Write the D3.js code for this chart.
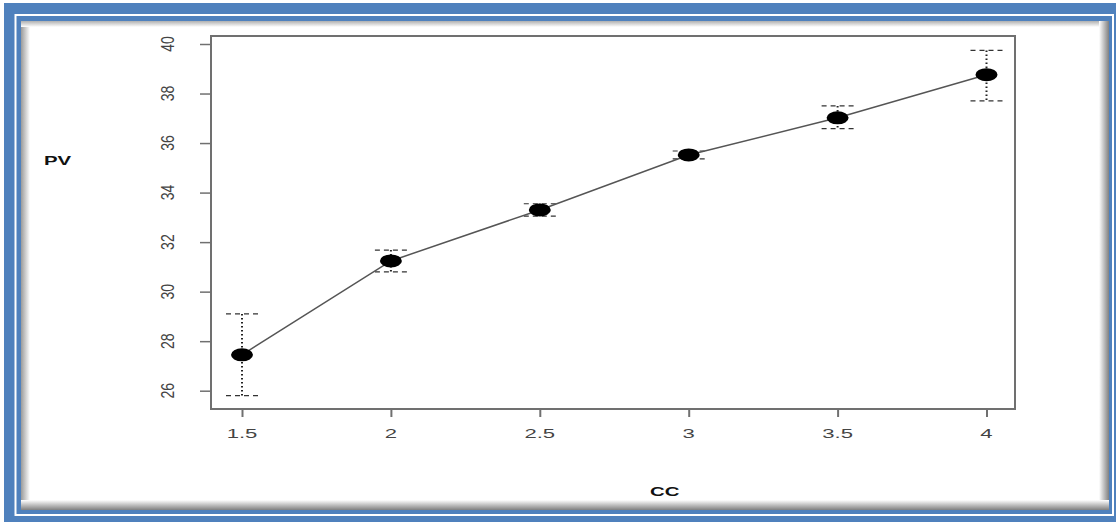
<!DOCTYPE html>
<html>
<head>
<meta charset="utf-8">
<script src="https://cdn.jsdelivr.net/npm/d3@7"></script>
<style>
  body { margin: 0; background: #fff; }
  svg { display: block; }
</style>
</head>
<body>
<svg width="1116" height="522"></svg>
<script>
// values
var cc      = [1.5, 2, 2.5, 3, 3.5, 4];
var pv      = [27.45, 31.24, 33.3, 35.52, 37.02, 38.76];
var pvUpper = [29.1, 31.68, 33.55, 35.68, 37.5, 39.74];
var pvLower = [25.8, 30.8, 33.05, 35.36, 36.58, 37.7];
var xTicks  = [1.5, 2, 2.5, 3, 3.5, 4];
var yTicks  = [26, 28, 30, 32, 34, 36, 38, 40];

var data = cc.map( (c, i) => ({ x: c, y: pv[i], hi: pvUpper[i], lo: pvLower[i] }) );

var svg = d3.select( "svg" );
var stretch = 1.7;        // the picture is widened, text too

// frame: blue border, thin white line, panel with soft shadow
var defs = svg.append( "defs" );
function grad( id, x1, y1, x2, y2, c1, c2 ) {
    var g = defs.append( "linearGradient" ).attr( "id", id )
        .attr( "x1", x1 ).attr( "y1", y1 ).attr( "x2", x2 ).attr( "y2", y2 );
    g.append( "stop" ).attr( "offset", "0%" ).attr( "stop-color", c1 );
    g.append( "stop" ).attr( "offset", "100%" ).attr( "stop-color", c2 );
}
grad( "shL", 0, 0, 1, 0, "#9a9a9a", "#ffffff" );
grad( "shT", 0, 0, 0, 1, "#b0b0b0", "#ffffff" );
grad( "shR", 0, 0, 1, 0, "#ffffff", "#808080" );
grad( "shB", 0, 0, 0, 1, "#ffffff", "#808080" );

svg.append( "rect" ).attr( "x", 4 ).attr( "y", 3 )
    .attr( "width", 1112 ).attr( "height", 519 ).attr( "fill", "#4f81bd" );
svg.append( "rect" ).attr( "x", 15.5 ).attr( "y", 15 )
    .attr( "width", 1097.5 ).attr( "height", 500 )
    .attr( "fill", "none" ).attr( "stroke", "#fff" ).attr( "stroke-width", 2 );
svg.append( "rect" ).attr( "x", 21 ).attr( "y", 21 )
    .attr( "width", 1088 ).attr( "height", 489 ).attr( "fill", "#fff" );
svg.append( "rect" ).attr( "x", 21 ).attr( "y", 21 ).attr( "width", 9 ).attr( "height", 489 ).attr( "fill", "url(#shL)" );
svg.append( "rect" ).attr( "x", 21 ).attr( "y", 21 ).attr( "width", 1088 ).attr( "height", 6 ).attr( "fill", "url(#shT)" );
svg.append( "rect" ).attr( "x", 1099 ).attr( "y", 21 ).attr( "width", 10 ).attr( "height", 489 ).attr( "fill", "url(#shR)" );
svg.append( "rect" ).attr( "x", 21 ).attr( "y", 500 ).attr( "width", 1088 ).attr( "height", 10 ).attr( "fill", "url(#shB)" );

// plot box
var box = { left: 211, top: 36, right: 1015, bottom: 409 };

var scX = d3.scaleLinear().domain( [1.5, 4] ).range( [242, 986.5] );
var scY = d3.scaleLinear().domain( [26, 40] ).range( [390.7, 44] );

var axisColor = "#707070";

svg.append( "rect" )
    .attr( "x", box.left ).attr( "y", box.top )
    .attr( "width", box.right - box.left ).attr( "height", box.bottom - box.top )
    .attr( "fill", "none" ).attr( "stroke", axisColor ).attr( "stroke-width", 2 );

// x axis: ticks below the box, wide labels
var xAxis = d3.axisBottom( scX ).tickValues( xTicks ).tickSize( 7 ).tickPadding( 0 )
    .tickFormat( d3.format( "" ) );
var gx = svg.append( "g" ).attr( "transform", "translate(0," + (box.bottom + 1) + ")" ).call( xAxis );
gx.select( ".domain" ).remove();
gx.selectAll( ".tick line" ).attr( "stroke", axisColor ).attr( "stroke-width", 2 );
gx.selectAll( ".tick text" ).remove();
svg.append( "g" ).selectAll( "text" )
    .data( xTicks ).enter().append( "text" )
    .attr( "transform", d => "translate(" + scX(d) + ",438) scale(" + stretch + ",1)" )
    .attr( "text-anchor", "middle" )
    .attr( "font-family", "Liberation Sans, Arial, sans-serif" )
    .attr( "font-size", 13 ).attr( "fill", "#444" )
    .text( d => d );

// y axis: ticks left of the box, rotated labels
var yAxis = d3.axisLeft( scY ).tickValues( yTicks ).tickSize( 11 ).tickFormat( "" );
var gy = svg.append( "g" ).attr( "transform", "translate(" + box.left + ",0)" ).call( yAxis );
gy.select( ".domain" ).remove();
gy.selectAll( ".tick line" ).attr( "stroke", axisColor ).attr( "stroke-width", 1.5 );
svg.append( "g" ).selectAll( "text" )
    .data( yTicks ).enter().append( "text" )
    .attr( "transform", d => "translate(174," + scY(d) + ") scale(" + stretch * 0.75 + ",1) rotate(-90)" )
    .attr( "text-anchor", "middle" )
    .attr( "font-family", "Liberation Sans, Arial, sans-serif" )
    .attr( "font-size", 14 ).attr( "fill", "#444" )
    .text( d => d );

// error bars: dotted stem, dashed caps
var eb = svg.append( "g" ).attr( "id", "errbars" );
eb.selectAll( "line.stem" )
    .data( data ).enter().append( "line" ).attr( "class", "stem" )
    .attr( "x1", d => scX(d.x) ).attr( "x2", d => scX(d.x) )
    .attr( "y1", d => scY(d.hi) ).attr( "y2", d => scY(d.lo) )
    .attr( "stroke", "#222" ).attr( "stroke-width", 2 )
    .attr( "stroke-dasharray", "1.5,2.5" );
["hi", "lo"].forEach( function( k ) {
    eb.selectAll( "line.cap-" + k )
        .data( data ).enter().append( "line" ).attr( "class", "cap-" + k )
        .attr( "x1", d => scX(d.x) - 16 ).attr( "x2", d => scX(d.x) + 16 )
        .attr( "y1", d => scY(d[k]) ).attr( "y2", d => scY(d[k]) )
        .attr( "stroke", "#333" ).attr( "stroke-width", 1.2 )
        .attr( "stroke-dasharray", "5,4" );
} );

// connecting line
var lineMaker = d3.line().x( d => scX(d.x) ).y( d => scY(d.y) );
svg.append( "path" )
    .attr( "d", lineMaker( data ) )
    .attr( "fill", "none" ).attr( "stroke", "#555" ).attr( "stroke-width", 1.5 );

// points, stretched like the rest of the picture
svg.append( "g" ).selectAll( "ellipse" )
    .data( data ).enter().append( "ellipse" )
    .attr( "cx", d => scX(d.x) ).attr( "cy", d => scY(d.y) )
    .attr( "rx", 11 ).attr( "ry", 6.5 ).attr( "fill", "#000" );

// axis titles
function title( x, y, t ) {
    svg.append( "text" )
        .attr( "transform", "translate(" + x + "," + y + ") scale(" + stretch + ",1)" )
        .attr( "font-family", "Liberation Sans, Arial, sans-serif" )
        .attr( "font-weight", "bold" ).attr( "font-size", 12 )
        .attr( "fill", "#111" ).text( t );
}
title( 44, 165, "PV" );
title( 650, 496, "CC" );
</script>
</body>
</html>
